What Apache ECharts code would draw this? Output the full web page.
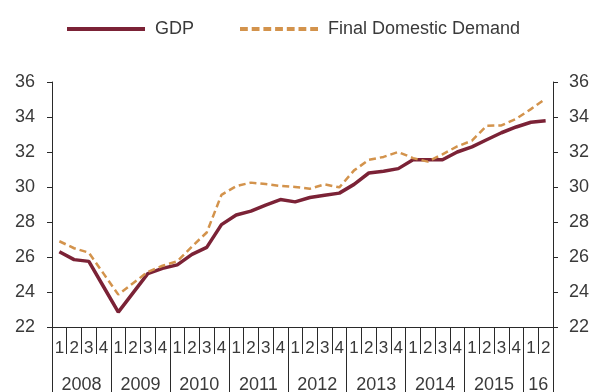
<!DOCTYPE html>
<html>
<head>
<meta charset="utf-8">
<script src="https://cdn.jsdelivr.net/npm/echarts@6/dist/echarts.min.js"></script>
<style>
html,body{margin:0;padding:0;background:#fff;}
#c{width:593px;height:392px;}
</style>
</head>
<body>
<div id="c"></div>
<script>
// ---- data ----
var years = ['2008','2009','2010','2011','2012','2013','2014','2015','16'];
var quartersPerYear = [4,4,4,4,4,4,4,4,2];
var quarterNames = ['1','2','3','4'];
var seriesNames = ['GDP', 'Final Domestic Demand'];
var gdp = [
  26.3, 25.85, 25.75, 24.3,
  22.85, 23.95, 25.05, 25.35,
  25.55, 26.15, 26.55, 27.85,
  28.4, 28.62, 28.97, 29.28,
  29.15, 29.4, 29.53, 29.65,
  30.15, 30.8, 30.9, 31.05,
  31.56, 31.56, 31.56, 32.0,
  32.29, 32.7, 33.1, 33.43,
  33.7, 33.78
];
var fdd = [
  26.9, 26.5, 26.25, 25.05,
  23.85, 24.5, 25.15, 25.5,
  25.75, 26.6, 27.4, 29.55,
  30.05, 30.25, 30.17, 30.06,
  30.0, 29.9, 30.15, 29.98,
  30.95, 31.55, 31.72, 32.0,
  31.65, 31.45, 31.87, 32.32,
  32.65, 33.5, 33.52, 33.9,
  34.45, 35.05
];
var yMin = 22, yMax = 36, yStep = 2;

// ---- derived axis data ----
var quarterLabels = [];
var boundaryIdx = {0: true};
var yearLabelAt = {};
var pos = 0;
years.forEach(function (y, i) {
  var n = quartersPerYear[i];
  for (var q = 0; q < n; q++) quarterLabels.push(quarterNames[q]);
  yearLabelAt[pos + n / 2] = y;
  pos += n;
  boundaryIdx[pos] = true;
});
var yearAxisData = [];
for (var k = 0; k <= pos; k++) yearAxisData.push(yearLabelAt[k] || '');

var axisColor = '#2a2a2a';
var textColor = '#3a3a3a';
var font = 'Liberation Sans, Arial, sans-serif';
var gdpColor = '#7b2236';
var fddColor = '#d3934c';

var solidIcon = 'path://M0,0 L80,0 L80,4 L0,4 Z';
var dashIcon = 'path://M0,0h8v4h-8z M12,0h8v4h-8z M24,0h8v4h-8z M36,0h8v4h-8z M48,0h8v4h-8z M60,0h8v4h-8z M72,0h8v4h-8z';

var chart = echarts.init(document.getElementById('c'), null, {renderer: 'canvas'});
chart.setOption({
  animation: false,
  backgroundColor: '#ffffff',
  legend: {
    top: 15,
    left: 62,
    itemWidth: 78,
    itemHeight: 4,
    itemGap: 46,
    textStyle: {fontFamily: font, fontSize: 18, color: textColor, padding: [0, 0, 0, 5]},
    data: [
      {name: seriesNames[0], icon: solidIcon, itemStyle: {color: gdpColor}},
      {name: seriesNames[1], icon: dashIcon, itemStyle: {color: fddColor}}
    ]
  },
  grid: {left: 52, right: 40, top: 82, bottom: 65, containLabel: false, outerBoundsMode: 'none'},
  xAxis: [
    {
      type: 'category',
      position: 'bottom',
      data: quarterLabels,
      boundaryGap: true,
      axisLine: {show: true, lineStyle: {color: axisColor, width: 1}},
      axisTick: {show: true, interval: 0, length: 27, lineStyle: {color: axisColor, width: 1}},
      axisLabel: {interval: 0, margin: 13, fontFamily: font, fontSize: 17, color: textColor},
      splitLine: {show: false}
    },
    {
      type: 'category',
      position: 'bottom',
      data: yearAxisData,
      boundaryGap: false,
      axisLine: {show: false},
      axisTick: {
        show: true, length: 66,
        interval: function (index) { return !!boundaryIdx[index]; },
        lineStyle: {color: axisColor, width: 1}
      },
      axisLabel: {interval: 0, margin: 49, fontFamily: font, fontSize: 18, color: textColor},
      splitLine: {show: false}
    }
  ],
  yAxis: [
    {
      type: 'value', position: 'left', min: yMin, max: yMax, interval: yStep,
      axisLine: {show: true, lineStyle: {color: axisColor, width: 1}},
      axisTick: {show: true, length: 5, lineStyle: {color: axisColor}},
      axisLabel: {margin: 17, fontFamily: font, fontSize: 18, color: textColor},
      splitLine: {show: false}
    },
    {
      type: 'value', position: 'right', min: yMin, max: yMax, interval: yStep,
      axisLine: {show: true, lineStyle: {color: axisColor, width: 1}},
      axisTick: {show: true, length: 5, lineStyle: {color: axisColor}},
      axisLabel: {margin: 16, fontFamily: font, fontSize: 18, color: textColor},
      splitLine: {show: false}
    }
  ],
  series: [
    {
      name: seriesNames[0], type: 'line', data: gdp, xAxisIndex: 0, yAxisIndex: 0,
      symbol: 'none', smooth: false, z: 3,
      lineStyle: {color: gdpColor, width: 3.5},
      itemStyle: {color: gdpColor}
    },
    {
      name: seriesNames[1], type: 'line', data: fdd, xAxisIndex: 0, yAxisIndex: 0,
      symbol: 'none', smooth: false, z: 4,
      lineStyle: {color: fddColor, width: 2.5, type: [7, 4]},
      itemStyle: {color: fddColor}
    }
  ]
});
</script>
</body>
</html>
